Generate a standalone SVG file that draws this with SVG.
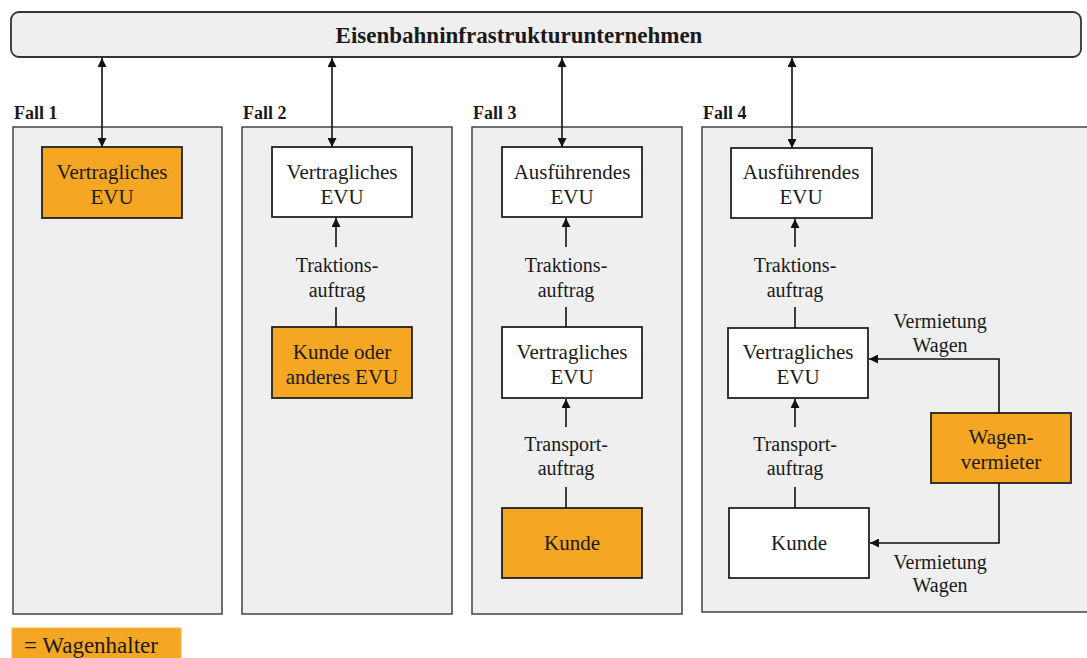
<svg xmlns="http://www.w3.org/2000/svg" width="1087" height="658" viewBox="0 0 1087 658">
<style>
text{font-family:"Liberation Serif","Times New Roman",serif;fill:#1a1a1a;text-anchor:middle}
.panel{fill:#efefef;stroke:#444;stroke-width:1.5}
.box{fill:#fff;stroke:#222;stroke-width:1.8}
.or{fill:#f5a623;stroke:#222;stroke-width:1.8}
.t{font-family:"Liberation Serif","Times New Roman",serif;font-size:21px}
.s{font-family:"Liberation Serif","Times New Roman",serif;font-size:20px}
.fall{font-family:"Liberation Serif","Times New Roman",serif;font-size:18px;font-weight:bold;text-anchor:start}
.ln{fill:none;stroke:#111;stroke-width:1.6}
</style>
<defs>
<marker id="ah" viewBox="0 0 10 10" refX="10" refY="5" markerWidth="9" markerHeight="9" markerUnits="userSpaceOnUse" orient="auto-start-reverse"><path d="M0,0 L10,5 L0,10 z" fill="#111"/></marker>
</defs>
<rect x="0" y="0" width="1087" height="658" fill="#fff"/>
<g id="eiu"><rect x="11" y="12" width="1070" height="45" rx="8" fill="#efefef" stroke="#333" stroke-width="1.8"/>
<text x="519" y="43" style="font-family:'Liberation Serif',serif;font-size:23px;font-weight:bold">Eisenbahninfrastrukturunternehmen</text></g>
<g id="fall1"><text class="fall" x="14" y="119">Fall 1</text><rect class="panel" x="13" y="127" width="209" height="487"/></g>
<g id="fall2"><text class="fall" x="243" y="119">Fall 2</text><rect class="panel" x="242" y="127" width="210" height="487"/></g>
<g id="fall3"><text class="fall" x="473" y="119">Fall 3</text><rect class="panel" x="472" y="127" width="210" height="487"/></g>
<g id="fall4"><text class="fall" x="703" y="119">Fall 4</text><rect class="panel" x="702" y="127" width="400" height="485"/></g>
<g id="f1-evu"><rect class="or" x="42" y="147" width="140" height="71"/><text class="t" x="112" y="179">Vertragliches</text><text class="t" x="112" y="204">EVU</text></g>
<g id="f2-evu"><rect class="box" x="272" y="147" width="140" height="70"/><text class="t" x="342" y="179">Vertragliches</text><text class="t" x="342" y="204">EVU</text></g>
<g id="f2-kunde"><rect class="or" x="272" y="327" width="140" height="71"/><text class="t" x="342" y="359">Kunde oder</text><text class="t" x="342" y="384">anderes EVU</text></g>
<g id="f3-ausf"><rect class="box" x="502" y="147" width="140" height="70"/><text class="t" x="572" y="179">Ausführendes</text><text class="t" x="572" y="204">EVU</text></g>
<g id="f3-vertr"><rect class="box" x="502" y="327" width="140" height="71"/><text class="t" x="572" y="359">Vertragliches</text><text class="t" x="572" y="384">EVU</text></g>
<g id="f3-kunde"><rect class="or" x="502" y="508" width="140" height="70"/><text class="t" x="572" y="550">Kunde</text></g>
<g id="f4-ausf"><rect class="box" x="731" y="148" width="141" height="70"/><text class="t" x="801" y="179">Ausführendes</text><text class="t" x="801" y="204">EVU</text></g>
<g id="f4-vertr"><rect class="box" x="728" y="328" width="140" height="70"/><text class="t" x="798" y="359">Vertragliches</text><text class="t" x="798" y="384">EVU</text></g>
<g id="f4-kunde"><rect class="box" x="729" y="508" width="140" height="70"/><text class="t" x="799" y="550">Kunde</text></g>
<g id="f4-wagen"><rect class="or" x="931" y="413" width="140" height="70"/><text class="t" x="1001" y="444">Wagen-</text><text class="t" x="1001" y="469">vermieter</text></g>
<g id="connectors">
<line class="ln" x1="102" y1="58" x2="102" y2="147" marker-start="url(#ah)" marker-end="url(#ah)"/>
<line class="ln" x1="332" y1="58" x2="332" y2="147" marker-start="url(#ah)" marker-end="url(#ah)"/>
<line class="ln" x1="562" y1="58" x2="562" y2="147" marker-start="url(#ah)" marker-end="url(#ah)"/>
<line class="ln" x1="792" y1="58" x2="792" y2="148" marker-start="url(#ah)" marker-end="url(#ah)"/>
<line class="ln" x1="336" y1="247" x2="336" y2="218" marker-end="url(#ah)"/>
<line class="ln" x1="336" y1="307" x2="336" y2="327"/>
<line class="ln" x1="566" y1="247" x2="566" y2="218" marker-end="url(#ah)"/>
<line class="ln" x1="566" y1="307" x2="566" y2="327"/>
<line class="ln" x1="566" y1="427" x2="566" y2="399" marker-end="url(#ah)"/>
<line class="ln" x1="566" y1="487" x2="566" y2="508"/>
<line class="ln" x1="795" y1="247" x2="795" y2="219" marker-end="url(#ah)"/>
<line class="ln" x1="795" y1="307" x2="795" y2="328"/>
<line class="ln" x1="795" y1="427" x2="795" y2="399" marker-end="url(#ah)"/>
<line class="ln" x1="795" y1="487" x2="795" y2="508"/>
<polyline class="ln" points="999,413 999,359 869,359" marker-end="url(#ah)"/>
<polyline class="ln" points="999,483 999,543 870,543" marker-end="url(#ah)"/>
</g>
<g id="labels">
<text class="s" x="337" y="272">Traktions-</text><text class="s" x="337" y="297">auftrag</text>
<text class="s" x="566" y="272">Traktions-</text><text class="s" x="566" y="297">auftrag</text>
<text class="s" x="566" y="451">Transport-</text><text class="s" x="566" y="475">auftrag</text>
<text class="s" x="795" y="272">Traktions-</text><text class="s" x="795" y="297">auftrag</text>
<text class="s" x="795" y="451">Transport-</text><text class="s" x="795" y="475">auftrag</text>
<text class="s" x="940" y="328">Vermietung</text><text class="s" x="940" y="352">Wagen</text>
<text class="s" x="940" y="569">Vermietung</text><text class="s" x="940" y="592">Wagen</text>
</g>
<g id="legend"><rect x="12" y="628" width="169" height="32" fill="#f5a623" stroke="#f7b24a" stroke-width="1"/><text x="24" y="653" style="font-family:'Liberation Serif',serif;font-size:23px;text-anchor:start">= Wagenhalter</text></g>
</svg>
